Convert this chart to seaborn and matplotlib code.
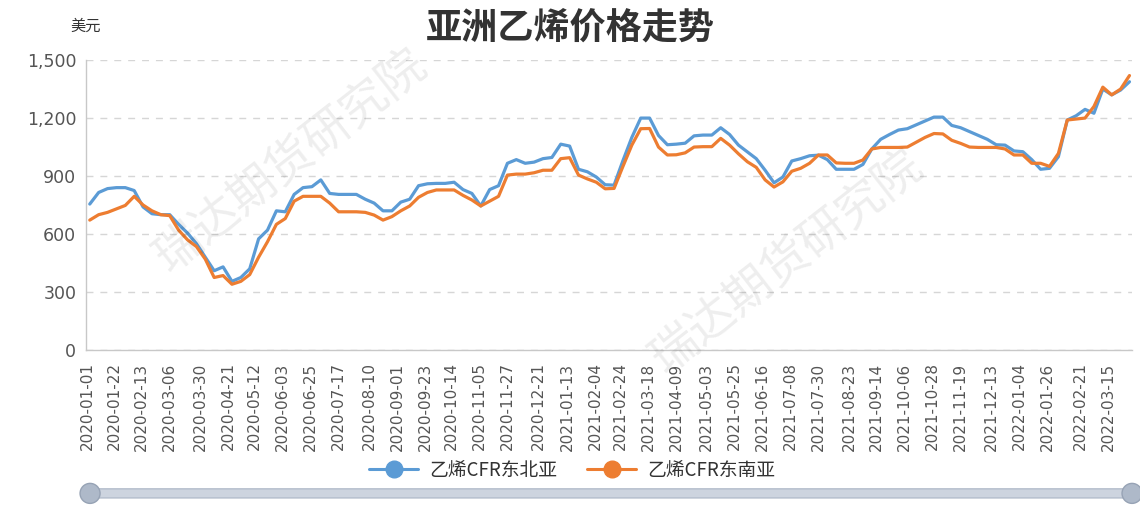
import pandas as pd
import seaborn as sns
import matplotlib.pyplot as plt
from matplotlib.lines import Line2D
from matplotlib.patches import FancyBboxPatch, Ellipse
from matplotlib.ticker import FuncFormatter

# weekly readings (USD/t), Fridays from 2020-01-03
weeks = pd.date_range("2020-01-03", periods=118, freq="7D")

ne_asia = [755, 815, 835, 840, 840, 825, 740, 705, 700, 700,
           650, 605, 550, 480, 410, 430, 355, 375, 420, 575,
           620, 720, 715, 805, 840, 845, 880, 810, 805, 805,
           805, 780, 760, 720, 720, 765, 780, 850, 860, 862,
           862, 868, 830, 810, 745, 830, 850, 966, 985, 966,
           972, 990, 996, 1065, 1055, 935, 922, 895, 855, 853,
           980, 1100, 1200, 1200, 1110, 1062, 1065, 1070, 1108, 1112,
           1112, 1150, 1115, 1060, 1025, 990, 930, 865, 895, 978,
           990, 1005, 1008, 985, 935, 935, 935, 960, 1040, 1090,
           1115, 1138, 1145, 1165, 1185, 1205, 1205, 1162, 1150, 1130,
           1110, 1090, 1062, 1060, 1030, 1026, 985, 935, 940, 1000,
           1190, 1212, 1245, 1225, 1350, 1320, 1345, 1388]

se_asia = [672, 700, 712, 730, 748, 795, 750, 720, 700, 695,
           620, 570, 535, 470, 375, 385, 340, 355, 390, 480,
           560, 650, 680, 770, 795, 795, 795, 760, 715, 715,
           715, 712, 698, 672, 690, 720, 745, 790, 815, 828,
           828, 828, 800, 776, 745, 770, 795, 905, 910, 910,
           917, 930, 930, 990, 995, 905, 885, 868, 834, 836,
           950, 1060, 1145, 1146, 1050, 1009, 1010, 1020, 1050, 1052,
           1052, 1095, 1060, 1015, 974, 945, 880, 843, 870, 925,
           940, 966, 1009, 1009, 968, 966, 966, 983, 1040, 1048,
           1048, 1048, 1050, 1075, 1100, 1120, 1118, 1085, 1069, 1050,
           1048, 1048, 1048, 1040, 1009, 1009, 966, 966, 950, 1017,
           1190, 1195, 1200, 1260, 1360, 1320, 1350, 1420]

series_names = ["乙烯CFR东北亚", "乙烯CFR东南亚"]
colors = ["#5b9bd5", "#ed7d31"]

tick_dates = ["2020-01-01", "2020-01-22", "2020-02-13", "2020-03-06", "2020-03-30",
              "2020-04-21", "2020-05-12", "2020-06-03", "2020-06-25", "2020-07-17",
              "2020-08-10", "2020-09-01", "2020-09-23", "2020-10-14", "2020-11-05",
              "2020-11-27", "2020-12-21", "2021-01-13", "2021-02-04", "2021-02-24",
              "2021-03-18", "2021-04-09", "2021-05-03", "2021-05-25", "2021-06-16",
              "2021-07-08", "2021-07-30", "2021-08-23", "2021-09-14", "2021-10-06",
              "2021-10-28", "2021-11-19", "2021-12-13", "2022-01-04", "2022-01-26",
              "2022-02-21", "2022-03-15"]

df = pd.DataFrame({
    "date": list(weeks) * 2,
    "price": ne_asia + se_asia,
    "series": [series_names[0]] * len(weeks) + [series_names[1]] * len(weeks),
})

sns.set_style("white")
plt.rcParams["font.family"] = ["Noto Sans CJK SC", "DejaVu Sans"]

fig = plt.figure(figsize=(11.4, 5.05), dpi=100)
ax = fig.add_axes([0.0754, 0.307, 0.9176, 0.574])

sns.lineplot(data=df, x="date", y="price", hue="series", palette=colors,
             linewidth=2.3, legend=False, ax=ax, zorder=3)

ax.set_ylim(0, 1500)
ax.set_yticks([0, 300, 600, 900, 1200, 1500])
ax.yaxis.set_major_formatter(FuncFormatter(lambda v, p: f"{v:,.0f}"))
ax.set_xlim(pd.Timestamp("2019-12-31"), pd.Timestamp("2022-04-03"))
ax.set_xticks(pd.to_datetime(tick_dates))
ax.set_xticklabels(tick_dates, rotation=90, family="DejaVu Sans", fontsize=11, color="#555555")
for lab in ax.get_yticklabels():
    lab.set_family("DejaVu Sans")
ax.tick_params(axis="y", labelsize=12.5, labelcolor="#555555", length=4, color="#cccccc", pad=3)
ax.tick_params(axis="x", length=5, color="#bbbbbb", direction="out", pad=4)
ax.set_xlabel("")
ax.set_ylabel("")

ax.yaxis.grid(True, linestyle=(0, (5, 5)), color="#d6d6d6", linewidth=1)
ax.xaxis.grid(False)
for side in ["top", "right"]:
    ax.spines[side].set_visible(False)
for side in ["left", "bottom"]:
    ax.spines[side].set_color("#c8c8c8")
    ax.spines[side].set_linewidth(1)

fig.text(0.5, 0.943, "亚洲乙烯价格走势", ha="center", va="center",
         fontsize=26, fontweight="bold", color="#333333")
fig.text(0.075, 0.947, "美元", ha="center", va="center", fontsize=11, color="#333333")

# watermark
for (cx, cy) in [(0.255, 0.68), (0.69, 0.48)]:
    fig.text(cx, cy, "瑞达期货研究院", ha="center", va="center", rotation=38,
             fontsize=34, color="#000000", alpha=0.07, zorder=0)

handles = [Line2D([0], [0], color=c, linewidth=2.2, marker="o", markersize=12)
           for c in colors]
fig.legend(handles, series_names, loc="center", bbox_to_anchor=(0.502, 0.069), ncol=2,
           frameon=False, fontsize=13.5, handlelength=2.6, columnspacing=1.6,
           handletextpad=0.6, labelcolor="#333333")

# data zoom slider
bar = FancyBboxPatch((0.079, 0.014), 0.914, 0.018, boxstyle="round,pad=0,rounding_size=0.008",
                     transform=fig.transFigure, facecolor="#cdd4df", edgecolor="#b3bccb",
                     linewidth=1, zorder=1)
fig.patches.append(bar)
for hx in [0.079, 0.993]:
    fig.patches.append(Ellipse((hx, 0.023), 20 / 1140, 20 / 505, transform=fig.transFigure,
                               facecolor="#aeb9c9", edgecolor="#97a3b5", linewidth=1, zorder=2))

fig.savefig("out.png", dpi=100)
